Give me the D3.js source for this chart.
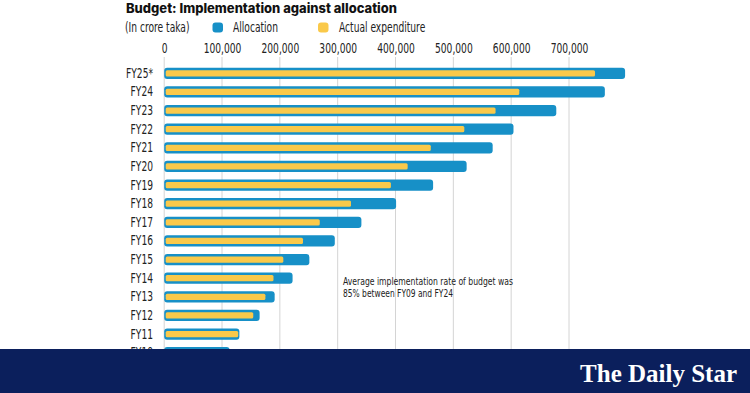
<!DOCTYPE html>
<html>
<head>
<meta charset="utf-8">
<script src="https://cdn.jsdelivr.net/npm/d3@7"></script>
<style>
  body { margin: 0; background: #fff; }
  svg { display: block; }
  .lbl { font-family: "DejaVu Sans Condensed", "DejaVu Sans", sans-serif; fill: #222; }
</style>
</head>
<body>
<div id="chart"></div>
<script>
// fiscal years, top to bottom
var years = ["FY25*", "FY24", "FY23", "FY22", "FY21", "FY20", "FY19", "FY18", "FY17", "FY16", "FY15", "FY14", "FY13", "FY12", "FY11", "FY10"];
// allocation (crore taka)
var allocation = [797000, 762000, 678000, 604000, 568000, 523000, 465000, 401000, 341000, 295000, 251000, 222000, 191000, 165000, 130000, 113000];
// actual expenditure (crore taka)
var expenditure = [745000, 614000, 573000, 519000, 461000, 421000, 392000, 323000, 269000, 240000, 206000, 189000, 175000, 154000, 128000, 110000];
var xTicks = [0, 100000, 200000, 300000, 400000, 500000, 600000, 700000];

var W = 750, H = 393;
var blue = "#1790c7", yellow = "#fac94a";

var svg = d3.select("#chart").append("svg")
  .attr("width", W).attr("height", H);

// the source uses a narrow face, so squeeze text horizontally
function squeeze(sel, k) {
  sel.each(function() {
    var w = this.getComputedTextLength();
    d3.select(this).attr("textLength", w * k).attr("lengthAdjust", "spacingAndGlyphs");
  });
}
function fitTo(sel, w) {
  sel.attr("textLength", w).attr("lengthAdjust", "spacingAndGlyphs");
}

// calibrate squeeze factor against "100,000" (~38px wide in source)
var probe = svg.append("text").attr("class", "lbl").style("font-size", "14px").text("100,000");
var k = 37.7 / probe.node().getComputedTextLength();
probe.remove();

// title + legend
svg.append("text")
  .attr("x", 126).attr("y", 12.5)
  .style("font-family", "Inter, 'Open Sans', sans-serif")
  .style("font-weight", 800)
  .style("font-size", "13px")
  .attr("fill", "#111")
  .text("Budget: Implementation against allocation")
  .call(fitTo, 271);

var leg = svg.append("g");
leg.append("text").attr("class", "lbl").attr("x", 125).attr("y", 31.5).style("font-size", "14px").text("(In crore taka)");
leg.append("rect").attr("x", 212.5).attr("y", 22.5).attr("width", 10.5).attr("height", 10).attr("rx", 3).attr("fill", blue);
leg.append("text").attr("class", "lbl").attr("x", 233).attr("y", 31.5).style("font-size", "14px").text("Allocation");
leg.append("rect").attr("x", 318).attr("y", 22.5).attr("width", 10.5).attr("height", 10).attr("rx", 3).attr("fill", yellow);
leg.append("text").attr("class", "lbl").attr("x", 339).attr("y", 31.5).style("font-size", "14px").text("Actual expenditure");
squeeze(leg.selectAll("text"), k);

// scales
var x = d3.scaleLinear().domain([0, 700000]).range([164.2, 569]);
var y = d3.scaleBand().domain(years).range([64, 362]).paddingInner(0.4).paddingOuter(0.2);

// gridlines
svg.append("g").selectAll("line")
  .data(xTicks).enter().append("line")
  .attr("x1", function(d) { return x(d); })
  .attr("x2", function(d) { return x(d); })
  .attr("y1", 57).attr("y2", 349)
  .attr("stroke", "#d4d4d4").attr("stroke-width", 1);

// top axis labels
var xAxis = svg.append("g")
  .attr("transform", "translate(0,57)")
  .call(d3.axisTop(x).tickValues(xTicks).tickSize(0).tickPadding(4)
    .tickFormat(d3.format(",")));
xAxis.select(".domain").remove();
xAxis.selectAll("text").attr("class", "lbl").style("font-size", "14px").call(squeeze, k);

// y labels
var yAxis = svg.append("g")
  .attr("transform", "translate(153,0)")
  .call(d3.axisLeft(y).tickSize(0).tickPadding(0));
yAxis.select(".domain").remove();
yAxis.selectAll("text").attr("class", "lbl").style("font-size", "14px").call(squeeze, k);

var rows = years.map(function(d, i) { return { year: d, alloc: allocation[i], spent: expenditure[i] }; });

// allocation bars
svg.append("g").selectAll("rect")
  .data(rows).enter().append("rect")
  .attr("x", x(0))
  .attr("y", function(d) { return y(d.year); })
  .attr("width", function(d) { return x(d.alloc) - x(0); })
  .attr("height", y.bandwidth())
  .attr("rx", 3).attr("ry", 3)
  .attr("fill", blue);

// expenditure bars
svg.append("g").selectAll("rect")
  .data(rows).enter().append("rect")
  .attr("x", x(0) + 1.5)
  .attr("y", function(d) { return y(d.year) + 2.5; })
  .attr("width", function(d) { return x(d.spent) - x(0) - 1.5; })
  .attr("height", y.bandwidth() - 5)
  .attr("rx", 1.5).attr("ry", 1.5)
  .attr("fill", yellow);

// note
var note = svg.append("g").attr("class", "lbl").style("font-size", "10.2px");
note.append("text").attr("x", 343).attr("y", 285).text("Average implementation rate of budget was").call(fitTo, 170);
note.append("text").attr("x", 343).attr("y", 297).text("85% between FY09 and FY24").call(fitTo, 110);

// footer banner
svg.append("rect").attr("x", 0).attr("y", 349).attr("width", W).attr("height", H - 349).attr("fill", "#0b1f5c");
svg.append("text")
  .attr("x", 737).attr("y", 382)
  .attr("text-anchor", "end")
  .style("font-family", "'Liberation Serif', 'DejaVu Serif', serif")
  .style("font-weight", "bold")
  .style("font-size", "25px")
  .attr("fill", "#fff")
  .text("The Daily Star");
</script>
</body>
</html>
